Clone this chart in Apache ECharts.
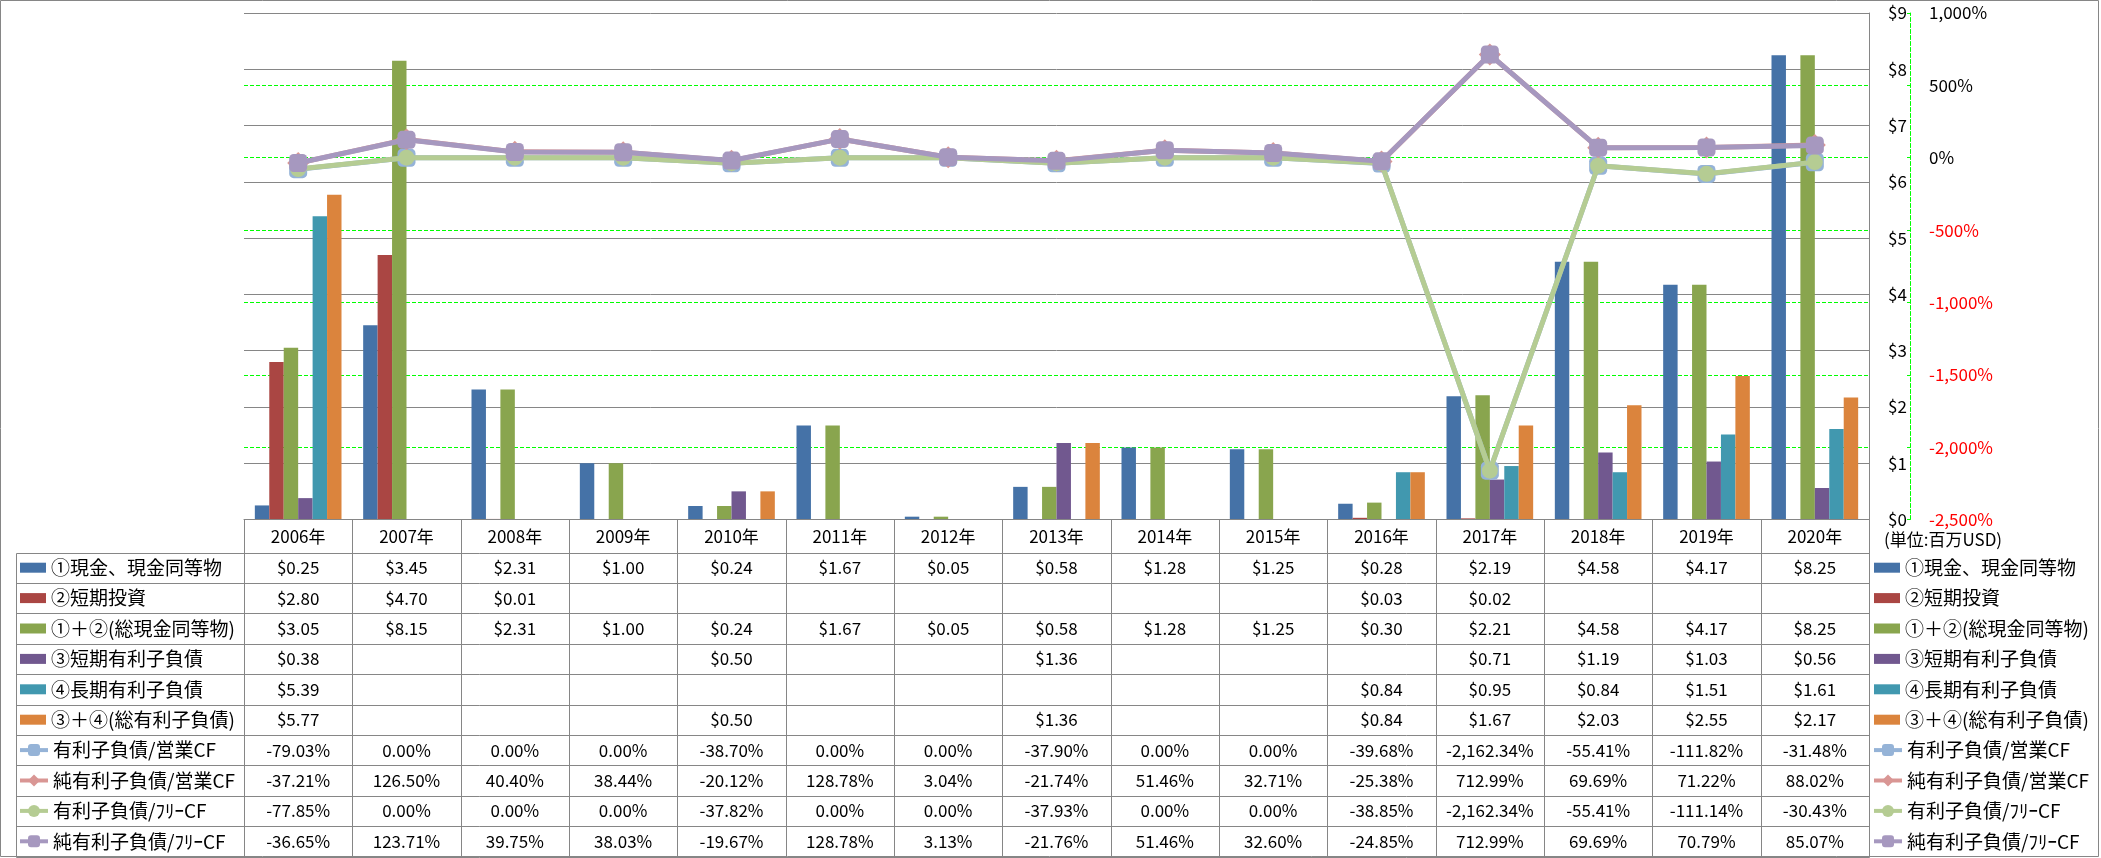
<!DOCTYPE html>
<html><head><meta charset="utf-8">
<script src="https://cdn.jsdelivr.net/npm/echarts@6/dist/echarts.min.js"></script>
<style>html,body{margin:0;padding:0;background:#fff}#c{width:2101px;height:858px}</style>
</head><body><div id="c"></div>
<script>
// ---------- data ----------
const categories = ['2006年','2007年','2008年','2009年','2010年','2011年','2012年','2013年','2014年','2015年','2016年','2017年','2018年','2019年','2020年'];
const cashEq     = [0.25, 3.45, 2.31, 1.00, 0.24, 1.67, 0.05, 0.58, 1.28, 1.25, 0.28, 2.19, 4.58, 4.17, 8.25];
const stInvest   = [2.80, 4.70, 0.01, null, null, null, null, null, null, null, 0.03, 0.02, null, null, null];
const totalCash  = [3.05, 8.15, 2.31, 1.00, 0.24, 1.67, 0.05, 0.58, 1.28, 1.25, 0.30, 2.21, 4.58, 4.17, 8.25];
const stDebt     = [0.38, null, null, null, 0.50, null, null, 1.36, null, null, null, 0.71, 1.19, 1.03, 0.56];
const ltDebt     = [5.39, null, null, null, null, null, null, null, null, null, 0.84, 0.95, 0.84, 1.51, 1.61];
const totalDebt  = [5.77, null, null, null, 0.50, null, null, 1.36, null, null, 0.84, 1.67, 2.03, 2.55, 2.17];
const debtOpCF    = [-79.03, 0, 0, 0, -38.70, 0, 0, -37.90, 0, 0, -39.68, -2162.34, -55.41, -111.82, -31.48];
const netDebtOpCF = [-37.21, 126.50, 40.40, 38.44, -20.12, 128.78, 3.04, -21.74, 51.46, 32.71, -25.38, 712.99, 69.69, 71.22, 88.02];
const debtFCF     = [-77.85, 0, 0, 0, -37.82, 0, 0, -37.93, 0, 0, -38.85, -2162.34, -55.41, -111.14, -30.43];
const netDebtFCF  = [-36.65, 123.71, 39.75, 38.03, -19.67, 128.78, 3.13, -21.76, 51.46, 32.60, -24.85, 712.99, 69.69, 70.79, 85.07];
const barNames  = ['①現金、現金同等物','②短期投資','①＋②(総現金同等物)','③短期有利子負債','④長期有利子負債','③＋④(総有利子負債)'];
const lineNames = ['有利子負債/営業CF','純有利子負債/営業CF','有利子負債/ﾌﾘｰCF','純有利子負債/ﾌﾘｰCF'];
const usdAxis = {min: 0, max: 9, interval: 1};
const pctAxis = {min: -2500, max: 1000, interval: 500};
const unitLabel = '(単位:百万USD)';

// ---------- style ----------
const FF = '"Noto Sans CJK JP","Noto Sans",sans-serif';
const barColors  = ['#4572A7','#AA4643','#89A54E','#71588F','#4198AF','#DB843D'];
const lineColors = ['#95B3D7','#D99694','#B5CC93','#A698BF'];
const lineSymbols = ['roundRect','diamond','circle','roundRect'];
const lineSymbolSizes = [18, 22, 16, 18];
const GRAY = '#868686';
const PLOT_LEFT = 244, PLOT_RIGHT = 1869, PLOT_TOP = 13, PLOT_BOTTOM = 519.5;
const HEADER_H = 33, ROW_H = 30.4, TABLE_LEFT = 16.5;
const W = 2101, H = 858;

const barData = [cashEq, stInvest, totalCash, stDebt, ltDebt, totalDebt];
const lineData = [debtOpCF, netDebtOpCF, debtFCF, netDebtFCF];

const series = [];
barData.forEach((d, i) => series.push({
  name: barNames[i], type: 'bar', yAxisIndex: 0, data: d,
  barGap: '0%', barCategoryGap: '20%',
  itemStyle: {color: barColors[i]}
}));
lineData.forEach((d, i) => series.push({
  name: lineNames[i], type: 'line', yAxisIndex: 1, data: d,
  symbol: lineSymbols[i], symbolSize: lineSymbolSizes[i],
  lineStyle: {color: lineColors[i], width: 5},
  itemStyle: {color: lineColors[i]},
  z: 3 + i
}));

const rowsTop = PLOT_BOTTOM + HEADER_H;
const legendCommon = {orient: 'vertical', padding: 0, itemGap: 0, selectedMode: false,
  textStyle: {fontFamily: FF, fontSize: 19, color: '#000', lineHeight: ROW_H}};
const barLegendData = barNames.map(n => ({name: n, icon: 'rect'}));

const chart = echarts.init(document.getElementById('c'), null, {renderer: 'canvas'});
chart.setOption({
  animation: false,
  backgroundColor: '#fff',
  textStyle: {fontFamily: FF},
  grid: {left: PLOT_LEFT, right: W - PLOT_RIGHT, top: PLOT_TOP, bottom: H - PLOT_BOTTOM},
  xAxis: {
    type: 'category', data: categories,
    axisLine: {lineStyle: {color: GRAY, width: 1}},
    axisTick: {show: false},
    axisLabel: {interval: 0, fontFamily: FF, fontSize: 17, color: '#000', margin: 9},
    z: 10
  },
  yAxis: [{
    type: 'value', position: 'right', offset: 0,
    min: usdAxis.min, max: usdAxis.max, interval: usdAxis.interval,
    axisLine: {show: true, lineStyle: {color: GRAY, width: 1}},
    axisTick: {show: false},
    axisLabel: {margin: 19, fontFamily: FF, fontSize: 17, color: '#000', formatter: v => '$' + v},
    splitLine: {show: true, lineStyle: {color: GRAY, width: 1}}
  }, {
    type: 'value', position: 'right', offset: 41,
    min: pctAxis.min, max: pctAxis.max, interval: pctAxis.interval,
    axisLine: {show: true, lineStyle: {color: '#00FF00', width: 1, type: [4, 2]}},
    axisTick: {show: true, inside: true, length: 3, lineStyle: {color: '#00FF00'}},
    axisLabel: {margin: 19, fontFamily: FF, fontSize: 17,
      color: v => Number(v) < 0 ? '#FF0000' : '#000000',
      formatter: v => Number(v).toLocaleString('en-US') + '%'},
    splitLine: {show: true, showMinLine: false, showMaxLine: false,
      lineStyle: {color: '#00FF00', width: 1, type: [4, 2]}}
  }],
  legend: [
    Object.assign({left: 20, top: rowsTop, itemWidth: 26, itemHeight: 10, data: barLegendData}, legendCommon),
    Object.assign({left: 18, top: rowsTop + 6 * ROW_H, itemWidth: 28, itemHeight: 15, data: lineNames,
      lineStyle: {width: 4}}, legendCommon),
    Object.assign({left: 1874, top: rowsTop, itemWidth: 26, itemHeight: 10, data: barLegendData}, legendCommon),
    Object.assign({left: 1872, top: rowsTop + 6 * ROW_H, itemWidth: 28, itemHeight: 15, data: lineNames,
      lineStyle: {width: 4}}, legendCommon)
  ],
  series: series
});

// ---------- data table (positions from the category axis) ----------
function fmtUsd(v) { return v == null ? '' : '$' + v.toFixed(2); }
function fmtPct(v) { return v == null ? '' : v.toLocaleString('en-US', {minimumFractionDigits: 2, maximumFractionDigits: 2}) + '%'; }
const rows = barData.map(d => d.map(fmtUsd)).concat(lineData.map(d => d.map(fmtPct)));

const centers = categories.map(c => chart.convertToPixel({xAxisIndex: 0}, c));
const band = centers[1] - centers[0];
const tableBottom = rowsTop + rows.length * ROW_H;
const g = [];
const ln = (x1, y1, x2, y2) => g.push({type: 'line', silent: true, z: 100,
  shape: {x1: x1, y1: y1, x2: x2, y2: y2}, style: {stroke: GRAY, lineWidth: 1}});
// outer frame
g.push({type: 'rect', silent: true, z: 0, shape: {x: 0.5, y: 0.5, width: W - 3, height: H - 2},
  style: {fill: null, stroke: GRAY, lineWidth: 1}});
// horizontal lines
for (let r = 0; r <= rows.length; r++) {
  const y = Math.round(rowsTop + r * ROW_H) + 0.5;
  ln(TABLE_LEFT, y, PLOT_RIGHT + 0.5, y);
}
ln(TABLE_LEFT, Math.round(rowsTop) + 0.5, TABLE_LEFT, Math.round(tableBottom) + 0.5);
// column lines
for (let i = 0; i <= categories.length; i++) {
  const x = Math.round(centers[0] - band / 2 + i * band) + 0.5;
  ln(x, PLOT_BOTTOM, x, Math.round(tableBottom) + 0.5);
}
// cell text
rows.forEach((row, r) => {
  const y = rowsTop + (r + 0.5) * ROW_H;
  row.forEach((t, i) => {
    if (!t) return;
    g.push({type: 'text', silent: true, z: 100, x: centers[i], y: y,
      style: {text: t, fill: '#000', fontFamily: FF, fontSize: 17, align: 'center', verticalAlign: 'middle'}});
  });
});
// unit label
g.push({type: 'text', silent: true, z: 100, x: 1884, y: 540,
  style: {text: unitLabel, fill: '#000', fontFamily: FF, fontSize: 17, align: 'left', verticalAlign: 'middle'}});
chart.setOption({graphic: g});
</script>
</body></html>
